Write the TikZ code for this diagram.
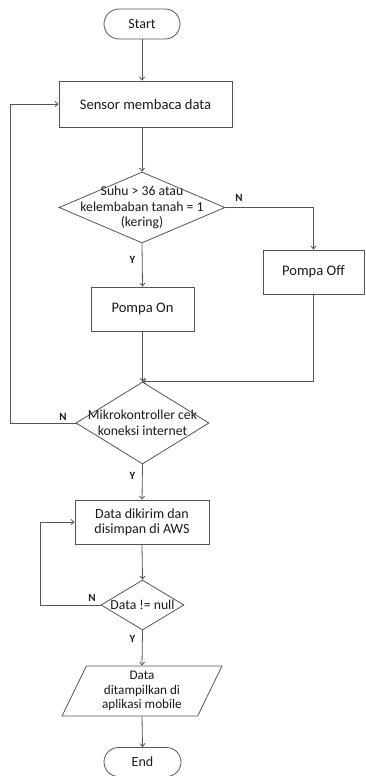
\documentclass[tikz,border=0pt]{standalone}
\usepackage{fontspec}
\setmainfont{Carlito}
\usetikzlibrary{arrows.meta}
\usetikzlibrary{shapes.geometric,shapes.misc}
\definecolor{garis}{HTML}{555555}
\definecolor{teks}{HTML}{1A1A1A}
\tikzset{>={Straight Barb[length=3pt,width=5pt]}}
\tikzset{
  terminal/.style={draw=garis,rounded rectangle,minimum width=76pt,minimum height=30pt,inner sep=0pt,text=teks,font=\fontsize{14}{16}\selectfont},
  proses/.style={draw=garis,rectangle,inner sep=0pt,align=center,text=teks,font=\fontsize{14.6}{16}\selectfont},
  keputusan/.style={draw=garis,diamond,inner sep=0pt},
  isi/.style={align=center,text=teks,font=\fontsize{13.7}{15.8}\selectfont},
  io/.style={draw=garis,trapezium,trapezium left angle=60,trapezium right angle=120,trapezium stretches body,minimum width=160pt,minimum height=50pt,inner sep=1pt,align=center,text=teks,font=\fontsize{13.2}{14.8}\selectfont},
  ket/.style={text=teks,font=\fontsize{11}{13}\selectfont\bfseries},
}

\begin{document}
\begin{tikzpicture}[x=1pt,y=-1pt,line width=0.8pt,draw=garis]
      \useasboundingbox (0,0) rectangle (365,776);
      \node[terminal] (start) at (142,24) {Start};
      \node[proses,minimum width=173pt,minimum height=46pt] (sensor) at (145.5,104) {Sensor membaca data};
      \node[keputusan,minimum width=166pt,minimum height=71pt,label={[isi]center:{Suhu > 36 atau\\kelembaban tanah = 1\\(kering)}}] (suhu) at (142,207.5) {};
      \node[proses,minimum width=103pt,minimum height=44pt] (on) at (142.5,309) {Pompa On};
      \node[proses,minimum width=101pt,minimum height=44pt] (off) at (313.5,272) {Pompa Off};
      \node[keputusan,minimum width=133pt,minimum height=82pt,label={[isi]center:{Mikrokontroller cek\\koneksi internet}}] (cek) at (142.5,423) {};
      \node[proses,minimum width=134pt,minimum height=44pt,font=\fontsize{14}{15}\selectfont] (kirim) at (142,522) {Data dikirim dan\\disimpan di AWS};
      \node[keputusan,minimum width=83pt,minimum height=50pt,label={[isi]center:{Data != null}}] (null) at (142.5,605) {};
      \node[io] (tampil) at (142,691) {Data\\ditampilkan di\\aplikasi mobile};
      \node[terminal,minimum width=77pt,minimum height=29pt] (end) at (142.5,762) {End};
      % label Y / N
      \node[ket] (n1) at (239,198) {N};
      \node[ket] (y1) at (132.5,260) {Y};
      \node[ket] (n2) at (63,417) {N};
      \node[ket] (y2) at (132.5,476) {Y};
      \node[ket] (n3) at (92,598) {N};
      \node[ket] (y3) at (132.5,639) {Y};
      \coordinate (balik1) at (10,104);
      \coordinate (balik2) at (40,522);
      % panah
      \draw[->] (start.south) -- (start.south |- sensor.north);
      \draw[->] (start.south |- sensor.south) -- (suhu.north);
      \draw[->] (suhu.east) -| (off.north);
      \draw[->] (suhu.south) -- (on.north);
      \draw[->] (on.south) -- (cek.north);
      \draw[->] (off.south) |- (cek.north);
      \draw[->] (cek.west) -| (balik1) -- (sensor.west);
      \draw[->] (cek.south) -- (kirim.north);
      \draw[->] (kirim.south) -- (null.north);
      \draw[->] (null.west) -| (balik2) -- (kirim.west);
      \draw[->] (null.south) -- (tampil.north);
      \draw[->] (tampil.south) -- (end.north);
    \end{tikzpicture}
\end{document}
